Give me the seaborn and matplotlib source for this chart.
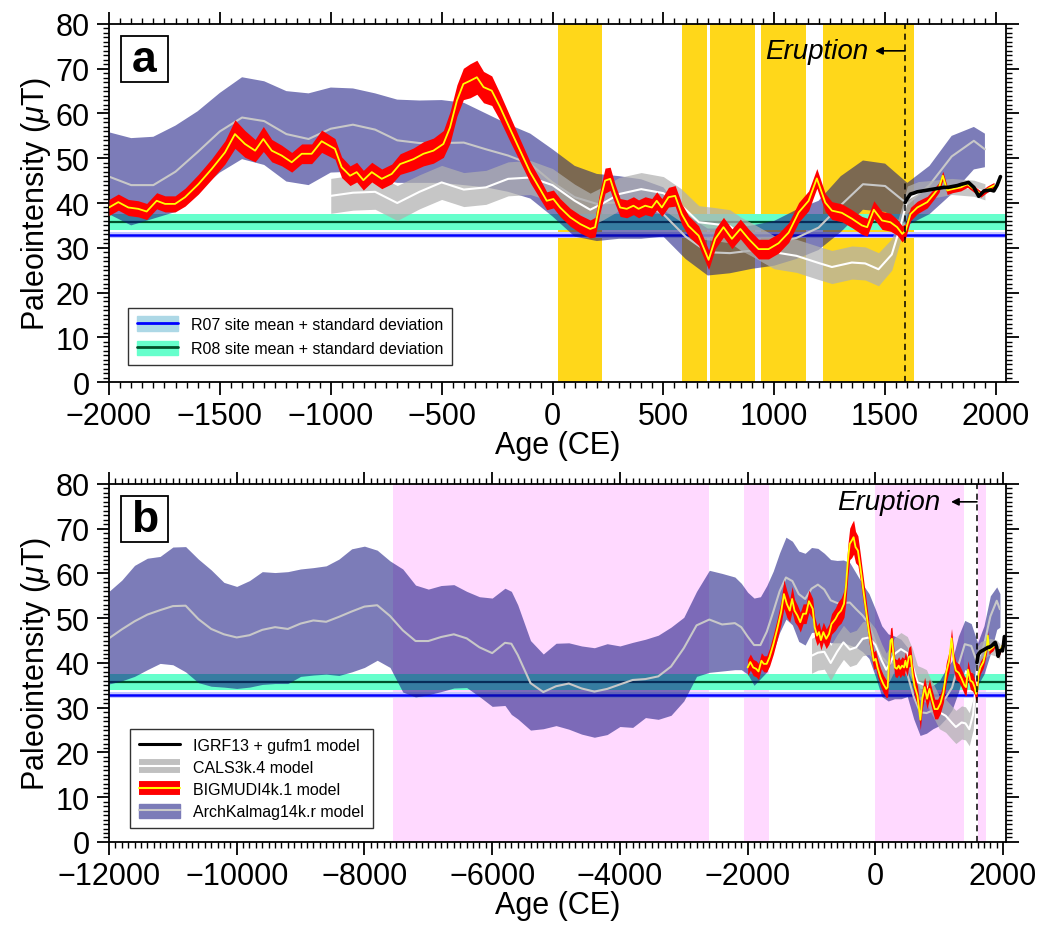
import numpy as np
import matplotlib
matplotlib.use("Agg")
import matplotlib.pyplot as plt
import seaborn as sns
from matplotlib.ticker import MultipleLocator
from matplotlib.patches import Patch, Rectangle
from matplotlib.lines import Line2D

# ---- data ----
# ArchKalmag14k.r model (mean and band edges)
arch_year = [-12000, -11800, -11600, -11400, -11200, -11000, -10800, -10600, -10400, -10200,
             -10000, -9800, -9600, -9400, -9200, -9000, -8800, -8600, -8400, -8200,
             -8000, -7800, -7600, -7400, -7200, -7000, -6800, -6600, -6400, -6200,
             -6000, -5800, -5700, -5600, -5400, -5200, -5000, -4800, -4600, -4400,
             -4200, -4000, -3800, -3600, -3400, -3200, -3000, -2800, -2600, -2400,
             -2200, -2100,
             -2000, -1900, -1800, -1700, -1600, -1500, -1400, -1300, -1200, -1100,
             -1000, -900, -800, -700, -600, -500, -400, -300, -200, -100,
             0, 100, 200, 300, 400, 500, 600, 700, 800, 900,
             1000, 1100, 1200, 1300, 1400, 1500, 1600, 1700, 1800, 1900, 1950]
arch_mid = [45.5, 47.5, 49.3, 50.8, 51.8, 52.7, 52.8, 49.8, 47.6, 46.4,
            45.7, 46.2, 47.4, 48.0, 47.6, 48.8, 49.5, 49.2, 50.3, 51.5,
            52.6, 52.9, 50.5, 47.3, 44.9, 44.9, 45.8, 46.4, 45.5, 43.5,
            42.2, 44.5, 44.3, 41.8, 35.5, 33.5, 34.8, 35.4, 34.3, 33.6,
            34.2, 35.2, 36.2, 36.4, 37.0, 39.2, 43.3, 48.4, 49.7, 48.6,
            48.9, 48.0,
            45.9, 44.0, 44.0, 47.0, 51.4, 56.0, 59.1, 58.3, 55.4, 54.3,
            56.6, 57.5, 56.4, 54.0, 53.4, 53.4, 53.5, 52.0, 50.6, 48.7,
            44.6, 41.3, 39.8, 40.2, 39.8, 37.5, 32.5, 29.0, 28.8, 29.4,
            30.8, 32.2, 34.5, 39.5, 44.2, 43.8, 39.8, 44.0, 50.4, 53.9, 52.0]
arch_hi = [56.0, 58.5, 61.8, 63.4, 63.8, 65.9, 66.0, 63.2, 60.8, 58.0,
           57.1, 58.4, 60.4, 60.2, 60.4, 61.0, 61.3, 61.7, 63.2, 65.5,
           66.1, 65.2, 62.8, 61.0, 57.4, 56.5, 57.3, 57.5, 56.0, 54.8,
           54.5, 56.7, 56.0, 53.0, 45.0, 42.0, 44.4, 44.5, 43.8, 43.4,
           44.3, 43.8, 44.6, 45.3, 46.2, 48.0, 50.2, 56.0, 60.7, 60.0,
           59.2, 57.8,
           55.8, 54.5, 54.8, 57.3, 60.5, 64.6, 68.1, 67.2, 65.0, 64.5,
           65.8, 65.6, 64.5, 63.1, 62.9, 63.0, 62.4, 60.0, 57.6, 55.5,
           52.0, 48.3, 46.5, 46.0, 45.3, 43.5, 37.5, 34.3, 34.3, 35.0,
           36.0, 38.5, 40.5, 46.0, 49.5, 48.8, 44.5, 48.3, 55.0, 57.0, 55.5]
arch_lo = [35.3, 36.0, 37.0, 38.5, 39.9, 39.6, 38.0, 35.6, 34.8, 34.6,
           34.3, 34.6, 35.2, 35.4, 35.4, 37.0, 37.3, 37.5, 37.2, 38.0,
           39.0, 40.6, 39.0, 33.5, 32.4, 32.9, 33.6, 34.4, 34.5, 32.5,
           30.3, 30.5, 28.5, 27.5, 25.0, 25.3, 26.0, 25.2, 24.1, 23.4,
           24.0, 25.8, 25.6, 27.8, 27.4, 28.3, 31.5, 37.0, 37.9, 38.2,
           38.5, 38.5,
           37.5, 35.0, 36.5, 38.0, 42.5, 46.8, 49.8, 48.5, 44.8, 44.0,
           46.8, 47.0, 45.5, 44.5, 44.5, 44.5, 44.0, 43.5, 42.5, 41.0,
           37.0, 32.5, 31.5, 32.0, 32.0, 32.5, 27.5, 23.8, 24.3, 25.3,
           26.0, 27.5, 29.5, 33.5, 38.5, 38.0, 35.0, 37.5, 42.0, 47.5, 48.0]

# CALS3k.4 model
cals_year = [-1000, -900, -800, -700, -600, -500, -400, -300, -200, -100,
             0, 100, 170, 230, 300, 400, 500, 580, 660, 730, 800, 850, 900,
             1000, 1100, 1200, 1260, 1350, 1410, 1470, 1530, 1570, 1600,
             1650, 1700, 1800, 1900, 1950]
cals_mid = [41.6, 42.3, 42.5, 40.0, 42.5, 44.6, 43.0, 43.5, 45.4, 45.7,
            44.0, 40.5, 38.5, 40.0, 42.0, 43.1, 42.2, 39.5, 35.7, 35.3, 34.8, 33.1, 31.8,
            29.0, 28.2, 26.6, 25.7, 26.7, 26.5, 25.2, 28.5, 35.0, 40.8,
            42.3, 43.0, 43.7, 43.3, 42.5]
cals_sd = [3.9, 3.9, 3.9, 3.9, 3.8, 3.8, 3.8, 3.8, 3.8, 3.8,
           3.7, 3.7, 3.7, 3.7, 3.7, 3.7, 3.7, 3.7, 3.7, 3.7, 3.7, 3.7, 3.7,
           3.7, 3.7, 3.7, 3.7, 3.7, 3.7, 3.7, 3.5, 3.3, 3.0,
           2.5, 2.0, 1.8, 1.8, 1.8]

# BIGMUDI4k.1 model
red_year = [-2000, -1958, -1913, -1868, -1830, -1785, -1747, -1702, -1657,
            -1597, -1537, -1477, -1432, -1387, -1341, -1304, -1266, -1221, -1176, -1131, -1086, -1041,
            -981, -951, -913, -883, -853, -815, -770, -725, -687,
            -627, -582, -537, -492, -462, -431, -402, -372, -341, -311, -274, -236, -191, -146, -101, -56, -26,
            4, 34, 80, 125, 170, 192, 215, 237, 260, 282, 305, 335, 365, 388, 418, 448, 470, 493, 523, 553,
            583, 613, 659, 704, 734, 771, 809, 847, 884, 929, 974, 1019, 1065, 1110, 1155, 1192, 1230, 1260,
            1305, 1350, 1395, 1419, 1449, 1486, 1524, 1554, 1577, 1592,
            1614, 1645, 1690, 1720, 1743, 1760, 1780, 1803, 1841, 1871, 1901, 1931, 1961, 1991]
red_mean = [39.0, 40.2, 39.0, 38.7, 38.1, 40.5, 39.8, 39.8, 41.3,
            44.2, 47.6, 51.3, 55.4, 53.2, 51.7, 54.3, 51.7, 50.6, 49.1, 51.0, 51.0, 53.8,
            52.1, 48.0, 46.1, 46.9, 45.1, 46.9, 45.4, 46.5, 48.7,
            49.8, 51.0, 51.7, 53.2, 56.9, 62.9, 66.6, 67.3, 68.1, 65.9, 65.1, 61.4, 56.5, 51.7, 46.9, 43.1, 40.5,
            40.9, 39.0, 36.8, 35.3, 34.2, 34.6, 40.5, 45.0, 45.4, 42.0, 39.0, 38.7, 39.4, 38.7, 39.4, 39.0, 40.5, 39.0, 41.3, 41.6,
            37.5, 34.9, 32.7, 27.3, 32.0, 34.6, 32.0, 34.2, 32.0, 29.7, 29.7, 31.0, 33.4, 37.9, 40.5, 45.5, 40.1, 38.3,
            37.8, 36.5, 35.0, 34.6, 38.5, 36.1, 35.7, 34.6, 33.1, 33.8,
            37.5, 39.0, 40.2, 42.0, 43.5, 46.1, 42.8, 43.1, 43.5, 44.2, 43.1, 42.0, 43.1, 43.9]
red_sd = [1.8, 1.8, 1.8, 1.8, 1.8, 1.8, 1.8, 1.8, 2.0,
          2.2, 2.3, 2.6, 3.2, 3.0, 2.5, 2.8, 2.5, 2.3, 2.2, 2.2, 2.2, 2.5,
          2.3, 2.3, 2.2, 2.2, 2.2, 2.2, 2.2, 2.2, 2.3,
          2.5, 2.7, 2.8, 3.0, 3.5, 3.5, 3.5, 3.8, 3.8, 3.5, 3.3, 3.0, 2.8, 2.5, 2.3, 2.2, 2.0,
          2.0, 2.0, 2.0, 2.0, 2.0, 2.2, 2.5, 2.8, 2.6, 2.2, 2.0, 2.0, 2.0, 2.0, 2.0, 2.0, 2.0, 2.0, 2.2, 2.3,
          2.3, 2.3, 2.2, 2.2, 2.2, 2.2, 2.2, 2.2, 2.2, 2.2, 2.2, 2.2, 2.2, 2.2, 2.2, 2.2, 2.0, 2.0,
          2.0, 2.0, 2.0, 2.0, 2.0, 2.0, 2.0, 1.8, 1.8, 1.6,
          1.5, 1.4, 1.3, 1.2, 1.1, 1.0, 0.9, 0.8, 0.8, 0.7, 0.7, 0.7, 0.7, 0.7]

# IGRF13 + gufm1 model
igrf_year = [1590, 1600, 1614, 1628, 1645, 1705, 1765, 1783, 1826, 1845, 1876, 1900, 1922, 1946, 1976, 1990, 2005, 2020]
igrf_val = [40.1, 41.0, 42.0, 42.2, 42.5, 43.0, 43.5, 43.5, 43.9, 44.2, 44.6, 43.5, 41.5, 42.7, 42.9, 42.7, 44.0, 45.9]

# site means (mean, sd)
r07 = (32.85, 0.65)
r08 = (35.75, 1.8)

eruption_year = 1590
yellow_start = [23, 584, 710, 940, 1220]
yellow_end = [225, 695, 912, 1143, 1631]
pink_start = [-7550, -2060, -10, 1600]
pink_end = [-2610, -1670, 1385, 1735]

# ---- style ----
sns.set_theme(style="white")
plt.rcParams['font.family'] = ['Liberation Sans', 'DejaVu Sans']
plt.rcParams['mathtext.fontset'] = 'custom'
plt.rcParams['mathtext.rm'] = 'Liberation Sans'
plt.rcParams['mathtext.it'] = 'Liberation Sans:italic'
for k in ['text.color', 'axes.labelcolor', 'xtick.color', 'ytick.color']:
    plt.rcParams[k] = 'black'

purple = '#10107f'
teal = '#66ffcc'
lav = '#c8c8ff'

fig = plt.figure(figsize=(10.37, 9.29), dpi=100)
ax_a = fig.add_axes([0.1051, 0.5877, 0.8650, 0.3854])
ax_b = fig.add_axes([0.1051, 0.0926, 0.8650, 0.3854])


def draw_models(ax):
    # site bands
    ax.axhspan(r08[0] - r08[1], r08[0] + r08[1], color=teal, lw=0, zorder=1)
    ax.axhline(r08[0], color='#00502a', lw=1.6, zorder=1.2)
    ax.axhspan(r07[0] - r07[1], r07[0] + r07[1], color=lav, lw=0, zorder=1)
    ax.axhline(r07[0], color='#0000ff', lw=1.8, zorder=1.2)

    ay = np.array(arch_year)
    ax.fill_between(ay, arch_lo, arch_hi, color=purple, alpha=0.55, lw=0, zorder=2)
    sns.lineplot(x=arch_year, y=arch_mid, ax=ax, color='#c8c8c8', lw=1.5,
                 estimator=None, sort=False, zorder=2.2)

    cy = np.array(cals_year)
    cm = np.array(cals_mid)
    cs = np.array(cals_sd)
    ax.fill_between(cy, cm - cs, cm + cs, color='#b0b0b0', alpha=0.72, lw=0, zorder=3)
    sns.lineplot(x=cals_year, y=cals_mid, ax=ax, color='white', lw=1.5,
                 estimator=None, sort=False, zorder=3.2)

    rm = np.array(red_mean)
    rs = np.array(red_sd)
    ax.fill_between(np.array(red_year), rm - rs, rm + rs, color='#ff0000', lw=0, zorder=4)
    sns.lineplot(x=red_year, y=red_mean, ax=ax, color='#ffff00', lw=1.3,
                 estimator=None, sort=False, zorder=4.2)

    sns.lineplot(x=igrf_year, y=igrf_val, ax=ax, color='black', lw=2.6,
                 estimator=None, sort=False, zorder=5)

    ax.axvline(eruption_year, color='black', lw=1.1, ls=(0, (4, 3)), zorder=6)


def style_axis(ax, xmin, major, minor):
    ax.set_xlim(xmin, 2045)
    ax.set_ylim(0, 80)
    ax.xaxis.set_major_locator(MultipleLocator(major))
    ax.xaxis.set_minor_locator(MultipleLocator(minor))
    ax.yaxis.set_major_locator(MultipleLocator(10))
    ax.yaxis.set_minor_locator(MultipleLocator(1))
    ax.tick_params(which='both', direction='out', top=True, right=True,
                   bottom=True, left=True, color='black')
    ax.tick_params(which='major', length=9, width=1.3, labelsize=22, pad=5)
    ax.tick_params(which='minor', length=4, width=1.0)
    for s in ax.spines.values():
        s.set_color('black')
        s.set_linewidth(1.3)
    ax.set_xlabel('Age (CE)', fontsize=22, labelpad=-1)
    ax.set_ylabel(r'Paleointensity ($\mu$T)', fontsize=22, labelpad=2)


def panel_label(ax, letter):
    ax.add_patch(Rectangle((0.0134, 0.838), 0.0524, 0.1285, transform=ax.transAxes,
                           fc='white', ec='black', lw=1.3, zorder=8))
    ax.text(0.0396, 0.900, letter, transform=ax.transAxes, fontsize=32, fontweight='bold',
            ha='center', va='center', zorder=9)


# panel a
for s0, s1 in zip(yellow_start, yellow_end):
    ax_a.axvspan(s0, s1, color='#ffd71a', lw=0, zorder=0)
draw_models(ax_a)
style_axis(ax_a, -2000, 500, 50)
ax_a.annotate('', xy=(1455, 74), xytext=(eruption_year, 74),
              arrowprops=dict(arrowstyle='-|>', color='black', lw=1.2,
                              mutation_scale=11, shrinkA=0, shrinkB=0), zorder=7)
ax_a.text(1425, 74, 'Eruption', fontsize=20, style='italic', ha='right', va='center', zorder=7)
panel_label(ax_a, 'a')

leg_a = ax_a.legend(
    handles=[(Patch(color='#add8e6'), Line2D([], [], color='#0000ff', lw=2)),
             (Patch(color=teal), Line2D([], [], color='#00502a', lw=2))],
    labels=['R07 site mean + standard deviation', 'R08 site mean + standard deviation'],
    loc='lower left', bbox_to_anchor=(0.021, 0.047), borderaxespad=0,
    fontsize=11.5, frameon=True, fancybox=False, edgecolor='black',
    handlelength=2.6, handleheight=1.0, borderpad=0.55, labelspacing=0.55)
leg_a.get_frame().set_linewidth(1.0)
leg_a.set_zorder(9)

# panel b
for s0, s1 in zip(pink_start, pink_end):
    ax_b.axvspan(s0, s1, color='#ffd9ff', lw=0, zorder=0)
draw_models(ax_b)
style_axis(ax_b, -12000, 2000, 100)
ax_b.annotate('', xy=(1185, 76), xytext=(eruption_year, 76),
              arrowprops=dict(arrowstyle='-|>', color='black', lw=1.2,
                              mutation_scale=11, shrinkA=0, shrinkB=0), zorder=7)
ax_b.text(1010, 76, 'Eruption', fontsize=20, style='italic', ha='right', va='center', zorder=7)
panel_label(ax_b, 'b')

leg_b = ax_b.legend(
    handles=[Line2D([], [], color='black', lw=2.2),
             (Line2D([], [], color='#c0c0c0', lw=10, solid_capstyle='butt'),
              Line2D([], [], color='white', lw=1.5)),
             (Line2D([], [], color='#ff0000', lw=10, solid_capstyle='butt'),
              Line2D([], [], color='#ffff00', lw=1.5)),
             (Patch(color='#7b7bb8'), Line2D([], [], color='#c8c8c8', lw=1.5))],
    labels=['IGRF13 + gufm1 model', 'CALS3k.4 model', 'BIGMUDI4k.1 model', 'ArchKalmag14k.r model'],
    loc='lower left', bbox_to_anchor=(0.0234, 0.039), borderaxespad=0,
    fontsize=11.5, frameon=True, fancybox=False, edgecolor='black',
    handlelength=2.6, handleheight=1.0, borderpad=0.55, labelspacing=0.4)
leg_b.get_frame().set_linewidth(1.0)
leg_b.set_zorder(9)

fig.savefig('out.png', dpi=100)
